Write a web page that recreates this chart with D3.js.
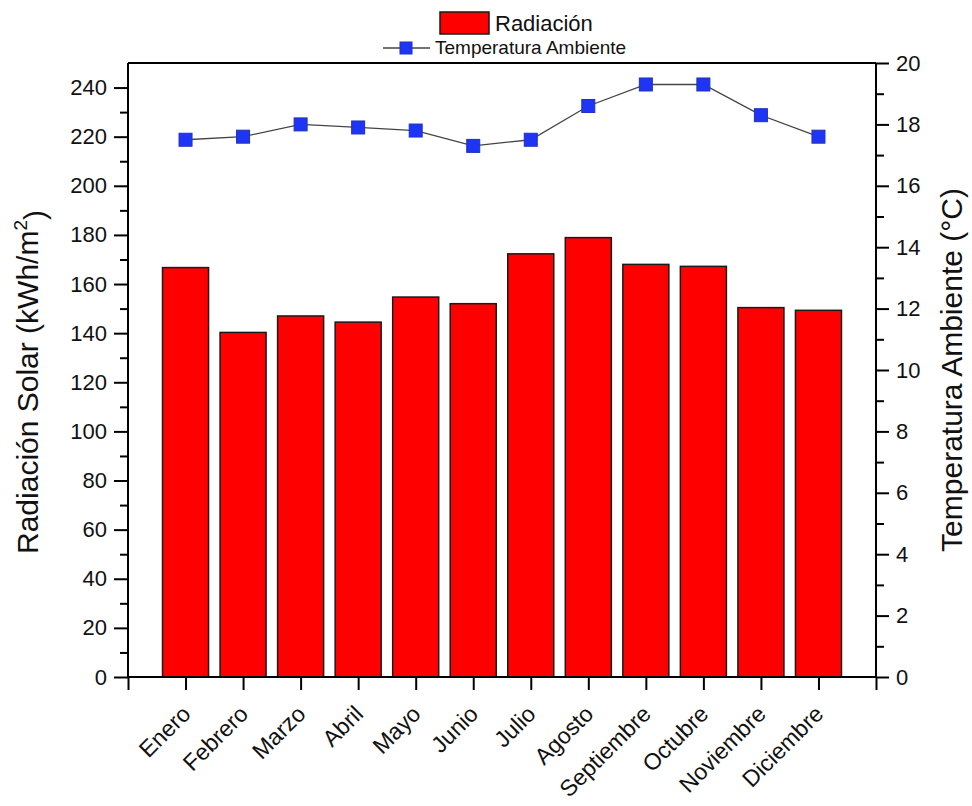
<!DOCTYPE html>
<html>
<head>
<meta charset="utf-8">
<script src="https://cdn.jsdelivr.net/npm/d3@7"></script>
<style>
  html, body { margin: 0; padding: 0; background: #fff; }
  svg { display: block; font-family: Arial, "Liberation Sans", sans-serif; }
</style>
</head>
<body>
<svg id="chart" width="972" height="806"></svg>
<script>
// Monthly solar radiation (kWh/m²) and ambient temperature (°C)
const months = ["Enero", "Febrero", "Marzo", "Abril", "Mayo", "Junio",
                "Julio", "Agosto", "Septiembre", "Octubre", "Noviembre", "Diciembre"];
const radiation = [166.7, 140.3, 147.0, 144.5, 154.7, 152.0, 172.3, 178.9, 168.0, 167.2, 150.4, 149.3];
const temperature = [17.5, 17.6, 18.0, 17.9, 17.8, 17.3, 17.5, 18.6, 19.3, 19.3, 18.3, 17.6];
const leftTicks = [0, 20, 40, 60, 80, 100, 120, 140, 160, 180, 200, 220, 240];
const rightTicks = [0, 2, 4, 6, 8, 10, 12, 14, 16, 18, 20];

const svg = d3.select("#chart");
const m = { left: 128, right: 876, top: 63, bottom: 677 };

const x = d3.scaleLinear().domain([0, months.length + 1]).range([m.left, m.right]);
const yL = d3.scaleLinear().domain([0, 250]).range([m.bottom, m.top]);
const yR = d3.scaleLinear().domain([0, 20]).range([m.bottom, m.top]);
const step = x(1) - x(0);
const barW = step * 0.8;

// Bars
svg.append("g").selectAll("rect").data(radiation).join("rect")
  .attr("x", (d, i) => x(i + 1) - barW / 2)
  .attr("y", d => yL(d))
  .attr("width", barW)
  .attr("height", d => yL(0) - yL(d))
  .attr("fill", "#ff0000")
  .attr("stroke", "#1a1a1a")
  .attr("stroke-width", 1.5);

// Frame top line
svg.append("line")
  .attr("x1", m.left).attr("x2", m.right).attr("y1", m.top).attr("y2", m.top)
  .attr("stroke", "#000").attr("stroke-width", 2);

const tickFont = 22;

// Left axis (major + minor)
const gL = svg.append("g").attr("transform", `translate(${m.left},0)`);
gL.call(d3.axisLeft(yL).tickValues(leftTicks).tickSize(14).tickPadding(7))
  .call(g => g.select(".domain").attr("stroke-width", 2).attr("d", `M0,${m.top}V${m.bottom}`));
gL.append("g").call(d3.axisLeft(yL).tickValues(d3.range(10, 250, 20)).tickSize(8).tickFormat(""))
  .call(g => g.select(".domain").remove());

// Right axis (major + minor)
const gR = svg.append("g").attr("transform", `translate(${m.right},0)`);
gR.call(d3.axisRight(yR).tickValues(rightTicks).tickSize(13).tickPadding(7))
  .call(g => g.select(".domain").attr("stroke-width", 2).attr("d", `M0,${m.top}V${m.bottom}`));
gR.append("g").call(d3.axisRight(yR).tickValues(d3.range(1, 20, 2)).tickSize(8).tickFormat(""))
  .call(g => g.select(".domain").remove());

// Bottom axis
const gB = svg.append("g").attr("transform", `translate(0,${m.bottom})`);
gB.call(d3.axisBottom(x).tickValues(d3.range(0, months.length + 2)).tickSize(13).tickFormat(""))
  .call(g => g.select(".domain").attr("stroke-width", 2).attr("d", `M${m.left},0H${m.right}`));

svg.selectAll(".tick line").attr("stroke", "#000").attr("stroke-width", 2);
svg.selectAll(".tick text").attr("font-size", tickFont).attr("fill", "#111")
  .attr("font-family", "Arial, 'Liberation Sans', sans-serif");

// Rotated month labels
svg.append("g").selectAll("text").data(months).join("text")
  .attr("transform", (d, i) => `translate(${x(i + 1) - 5},${m.bottom + 27}) rotate(-45)`)
  .attr("text-anchor", "end")
  .attr("dy", "0.7em")
  .attr("font-size", 23)
  .attr("fill", "#111")
  .text(d => d);

// Temperature line with square markers
const line = d3.line().x((d, i) => x(i + 1)).y(d => yR(d));
svg.append("path").datum(temperature)
  .attr("d", line).attr("fill", "none")
  .attr("stroke", "#444").attr("stroke-width", 1.3);
const ms = 13;
svg.append("g").selectAll("rect").data(temperature).join("rect")
  .attr("x", (d, i) => x(i + 1) - ms / 2)
  .attr("y", d => yR(d) - ms / 2)
  .attr("width", ms).attr("height", ms)
  .attr("fill", "#1f35f5").attr("stroke", "#2030c0").attr("stroke-width", 1);

// Axis titles
svg.append("text")
  .attr("transform", `translate(38,${(m.top + m.bottom) / 2 + 12}) rotate(-90)`)
  .attr("text-anchor", "middle")
  .attr("font-size", 30).attr("fill", "#111")
  .call(t => {
    t.append("tspan").text("Radiación Solar (kWh/m");
    t.append("tspan").attr("dy", "-0.6em").attr("font-size", 19).text("2");
    t.append("tspan").attr("dy", "0.6em").text(")");
  });

svg.append("text")
  .attr("transform", `translate(962,${(m.top + m.bottom) / 2}) rotate(-90)`)
  .attr("text-anchor", "middle")
  .attr("font-size", 30).attr("fill", "#111")
  .text("Temperatura Ambiente (°C)");

// Legend
const lg = svg.append("g");
lg.append("rect").attr("x", 440).attr("y", 12).attr("width", 49).attr("height", 22)
  .attr("fill", "#ff0000").attr("stroke", "#1a1a1a").attr("stroke-width", 1.5);
lg.append("text").attr("x", 495).attr("y", 31).attr("font-size", 22).attr("fill", "#111").text("Radiación");
lg.append("line").attr("x1", 383).attr("x2", 430).attr("y1", 48).attr("y2", 48)
  .attr("stroke", "#444").attr("stroke-width", 1.3);
lg.append("rect").attr("x", 400).attr("y", 42).attr("width", 12).attr("height", 12)
  .attr("fill", "#1f35f5").attr("stroke", "#2030c0").attr("stroke-width", 1);
lg.append("text").attr("x", 435).attr("y", 54).attr("font-size", 19).attr("fill", "#111").text("Temperatura Ambiente");
</script>
</body>
</html>
